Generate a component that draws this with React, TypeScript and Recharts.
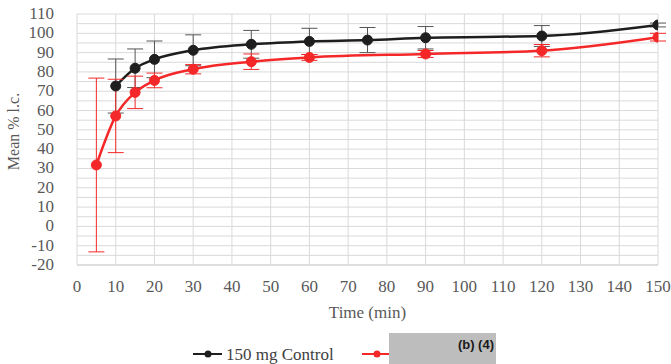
import React from 'react';
import { LineChart, Line, XAxis, YAxis, CartesianGrid, ErrorBar } from 'recharts';

// time points (min)
const controlTimes = [10, 15, 20, 30, 45, 60, 75, 90, 120, 150];
const controlMeans = [72.7, 81.9, 86.5, 91.2, 94.3, 95.8, 96.5, 97.7, 98.6, 104.3];
const controlSd = [14, 10, 9.5, 8, 7.2, 6.8, 6.5, 5.8, 5.4, 1];

const testTimes = [5, 10, 15, 20, 30, 45, 60, 90, 120, 150];
const testMeans = [31.8, 57.2, 69.4, 75.6, 81.4, 85.3, 87.5, 89.3, 91, 98];
const testSd = [45, 19, 8.4, 3.8, 2.4, 4, 1.5, 1.8, 3.2, 2];

const xTicks = [0, 10, 20, 30, 40, 50, 60, 70, 80, 90, 100, 110, 120, 130, 140, 150];
const yTicks = [-20, -10, 0, 10, 20, 30, 40, 50, 60, 70, 80, 90, 100, 110];
const gridY = [-20, -15, -10, -5, 0, 5, 10, 15, 20, 25, 30, 35, 40, 45, 50, 55, 60, 65, 70, 75, 80, 85, 90, 95, 100, 105, 110];

const controlData = controlTimes.map((t, i) => ({ t, v: controlMeans[i], e: controlSd[i] }));
const testData = testTimes.map((t, i) => ({ t, v: testMeans[i], e: testSd[i] }));

const BLACK = '#1e1e1e';
const RED = '#f42828';
const serif = "'Liberation Serif', 'Times New Roman', serif";
const GREY = '#595959';

const XTick = (props: any) => {
  const { x, y, payload } = props;
  return (
    <text x={x} y={y + 19} textAnchor="middle" fontFamily={serif} fontSize={17} fill={GREY}>
      {payload.value}
    </text>
  );
};

const YTick = (props: any) => {
  const { x, y, payload } = props;
  return (
    <text x={x - 15} y={y + 5} textAnchor="end" fontFamily={serif} fontSize={17} fill={GREY}>
      {payload.value}
    </text>
  );
};

function LegendBox() {
  return (
    <svg width={671} height={39} style={{ position: 'absolute', left: 0, top: 325 }}>
      <line x1={193} x2={222} y1={29} y2={29} stroke={BLACK} strokeWidth={2} />
      <circle cx={208} cy={29} r={3.5} fill={BLACK} />
      <line x1={362} x2={390} y1={29} y2={29} stroke={RED} strokeWidth={2} />
      <circle cx={377} cy={29} r={3.5} fill={RED} />
      <rect x={389} y={8} width={107} height={31} fill="#bdbdbd" />
      <text x={494} y={24} textAnchor="end" fontFamily="'Liberation Sans', Arial, sans-serif" fontWeight="bold" fontSize={13} fill="#1a1a1a">(b) (4)</text>
      <text x={226} y={35} fontFamily={serif} fontSize={17} fill="#404040">150 mg Control</text>
    </svg>
  );
}

export default function App() {
  return (
    <div style={{ position: 'absolute', left: 0, top: 0, width: 671, height: 364, background: '#fff' }}>
      <LineChart width={671} height={364} margin={{ top: 14, right: 13, bottom: 69, left: 0 }}>
        <CartesianGrid stroke="#d9d9d9" horizontalValues={gridY} verticalValues={xTicks} />
        <XAxis
          type="number"
          dataKey="t"
          domain={[0, 150]}
          ticks={xTicks}
          interval={0}
          allowDataOverflow
          height={30}
          axisLine={{ stroke: '#d0d0d0' }}
          tickLine={false}
          tick={<XTick />}
          label={{ value: 'Time (min)', position: 'insideBottom', offset: -23, fill: GREY, fontSize: 17, fontFamily: serif }}
        />
        <YAxis
          type="number"
          domain={[-20, 110]}
          ticks={yTicks}
          interval={0}
          allowDataOverflow
          width={77}
          axisLine={false}
          tickLine={false}
          tick={<YTick />}
          label={{ value: 'Mean % l.c.', angle: -90, position: 'insideLeft', dx: 8, dy: -8, fill: GREY, fontSize: 16, fontFamily: serif, style: { textAnchor: 'middle' } }}
        />
        <Line
          data={controlData}
          dataKey="v"
          type="monotone"
          stroke={BLACK}
          strokeWidth={2.5}
          dot={{ r: 5, fill: BLACK, stroke: BLACK, strokeWidth: 1 }}
          isAnimationActive={false}
          name="150 mg Control"
        >
          <ErrorBar dataKey="e" direction="y" width={8} stroke="#555" strokeWidth={1} isAnimationActive={false} />
        </Line>
        <Line
          data={testData}
          dataKey="v"
          type="monotone"
          stroke={RED}
          strokeWidth={2.5}
          dot={{ r: 5, fill: RED, stroke: RED, strokeWidth: 1 }}
          isAnimationActive={false}
          name="(b) (4)"
        >
          <ErrorBar dataKey="e" direction="y" width={8} stroke={RED} strokeWidth={1} isAnimationActive={false} />
        </Line>
      </LineChart>
      <LegendBox />
    </div>
  );
}
